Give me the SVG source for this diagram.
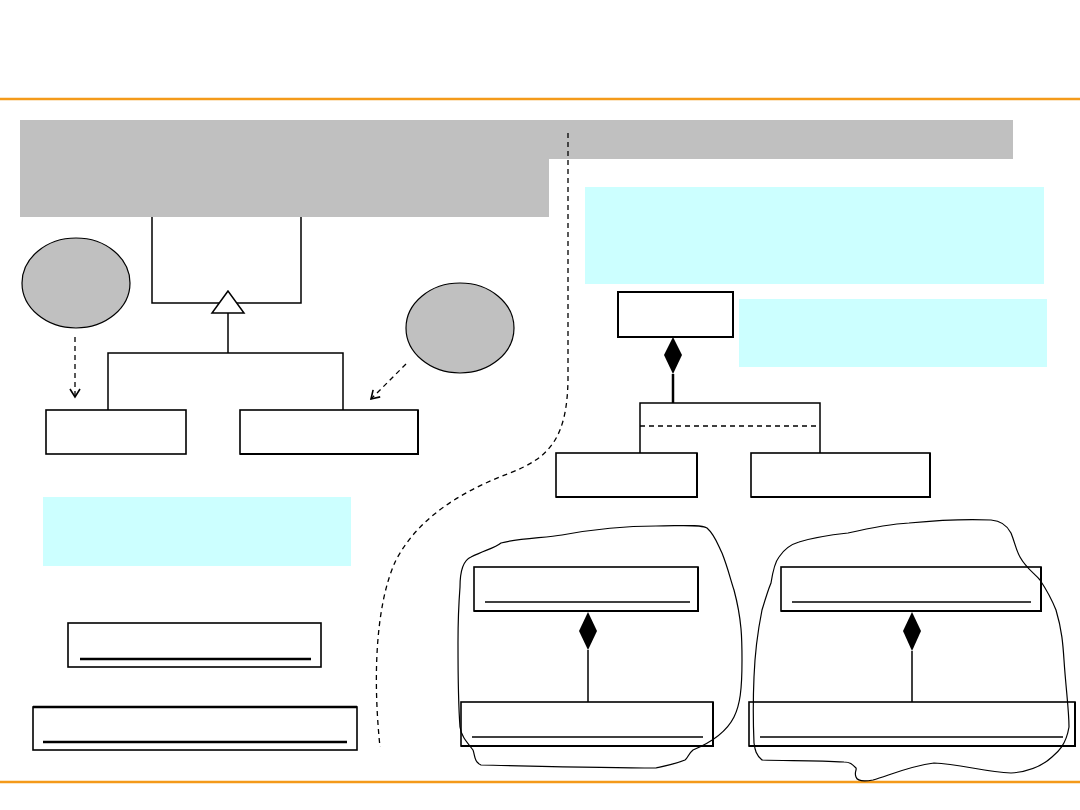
<svg xmlns="http://www.w3.org/2000/svg" width="1080" height="810" viewBox="0 0 1080 810">
<style>
.rule{stroke:#F49A1A;stroke-width:2.5;fill:none}
.gray{fill:#C0C0C0}
.note{fill:#CCFFFF}
.cls{fill:#fff;stroke:#000;stroke-width:1.6}
.ln{stroke:#000;stroke-width:1.5;fill:none}
.thick{stroke:#000;stroke-width:2.5;fill:none}
.dash{stroke:#000;stroke-width:1.3;fill:none;stroke-dasharray:5 4}
.blob{fill:none;stroke:#000;stroke-width:1.2}
.ell{fill:#C0C0C0;stroke:#000;stroke-width:1.2}
.dia{fill:#000}
</style>
<defs>
<marker id="open" markerWidth="12" markerHeight="12" refX="10" refY="6" orient="auto" markerUnits="userSpaceOnUse">
<polyline points="2,1 10,6 2,11" fill="none" stroke="#000" stroke-width="1.6"/>
</marker>
</defs>
<rect width="1080" height="810" fill="#fff"/>
<line class="rule" x1="0" y1="99" x2="1080" y2="99"/>
<line class="rule" x1="0" y1="782" x2="1080" y2="782"/>

<g id="banner">
<path class="gray" d="M20,120 H1013 V159 H549 V217 H20 Z"/>
</g>
<g id="note-top"><rect class="note" x="585" y="187" width="459" height="97"/></g>
<g id="note-mid"><rect class="note" x="739" y="299" width="308" height="68"/></g>
<g id="note-left"><rect class="note" x="43" y="497" width="308" height="69"/></g>

<g id="connectors">
<!-- generalization -->
<polyline class="ln" points="152,217 152,303 301,303 301,217"/>
<line class="ln" x1="228" y1="313" x2="228" y2="353"/>
<polyline class="ln" points="108,410 108,353 343,353 343,410"/>
<polygon points="228,291 212,313 244,313" fill="#fff" stroke="#000" stroke-width="1.5"/>
<!-- dashed arrows from ellipses -->
<line class="dash" x1="75" y1="337" x2="75" y2="397" marker-end="url(#open)"/>
<line class="dash" x1="406" y1="364" x2="371" y2="399" marker-end="url(#open)"/>
<!-- composition top right -->
<polygon class="dia" points="673,337 682,355 673,374 664,355"/>
<line class="thick" x1="673" y1="374" x2="673" y2="403"/>
<polyline class="ln" points="640,453 640,403 820,403 820,453"/>
<line class="dash" x1="640" y1="426" x2="820" y2="426"/>
<!-- compositions bottom right -->
<polygon class="dia" points="588,612 597,631 588,650 579,631"/>
<line class="ln" x1="588" y1="650" x2="588" y2="702"/>
<polygon class="dia" points="912,612 921,631 912,651 903,631"/>
<line class="ln" x1="912" y1="651" x2="912" y2="702"/>
<!-- separator curve -->
<path class="dash" d="M568,133 L568,380 C567,440 548,458 510,473 C465,490 420,515 396,560 C375,605 373,680 380,747"/>
</g>

<g id="ellipse-left"><ellipse class="ell" cx="76" cy="283" rx="54" ry="45"/></g>
<g id="ellipse-right"><ellipse class="ell" cx="460" cy="328" rx="54" ry="45"/></g>

<g id="class-left"><rect class="cls" x="46" y="410" width="140" height="44"/></g>
<g id="class-mid"><rect class="cls" x="240" y="410" width="178" height="44"/>
<polyline class="thick" points="418,410 418,454 240,454" style="stroke-width:2"/></g>

<g id="class-top"><rect class="cls" x="618" y="292" width="115" height="45" style="stroke-width:2"/></g>
<g id="class-r1"><rect class="cls" x="556" y="453" width="141" height="44"/>
<polyline class="thick" points="697,453 697,497 556,497" style="stroke-width:2"/></g>
<g id="class-r2"><rect class="cls" x="751" y="453" width="179" height="44"/>
<polyline class="thick" points="930,453 930,497 751,497" style="stroke-width:2"/></g>

<g id="obj-left1"><rect class="cls" x="68" y="623" width="253" height="44"/>
<line class="thick" x1="80" y1="659" x2="311" y2="659"/></g>
<g id="obj-left2"><rect class="cls" x="33" y="707" width="324" height="43"/>
<line class="thick" x1="33" y1="707" x2="357" y2="707"/>
<line class="thick" x1="43" y1="742" x2="347" y2="742"/></g>

<g id="obj-a"><rect class="cls" x="474" y="567" width="224" height="44"/>
<polyline class="thick" points="698,567 698,611 474,611" style="stroke-width:2"/>
<line class="ln" x1="485" y1="602" x2="690" y2="602"/></g>
<g id="obj-b"><rect class="cls" x="461" y="702" width="252" height="44"/>
<polyline class="thick" points="713,702 713,746 461,746" style="stroke-width:2"/>
<line class="ln" x1="472" y1="737" x2="703" y2="737"/></g>
<g id="obj-c"><rect class="cls" x="781" y="567" width="260" height="44"/>
<polyline class="thick" points="1041,567 1041,611 781,611" style="stroke-width:2"/>
<line class="ln" x1="792" y1="602" x2="1031" y2="602"/></g>
<g id="obj-d"><rect class="cls" x="749" y="702" width="326" height="44"/>
<polyline class="thick" points="1075,702 1075,746 749,746" style="stroke-width:2"/>
<line class="ln" x1="760" y1="737" x2="1063" y2="737"/></g>

<g id="blob-left">
<path class="blob" d="M460,587 C460,570 464,560 471,557 C485,550 495,548 501,543 C520,538 545,538 562,535 C600,528 630,526 656,526 C680,526 700,524 707,528 C715,535 718,545 722,553 C728,568 730,578 734,590 C742,620 742,640 742,660 C742,690 740,705 734,717 C725,735 705,745 693,750 C688,754 688,758 685,760 C675,764 665,766 656,768 C600,768 530,766 481,765 C474,762 475,755 473,750 C465,740 461,735 460,727 C458,700 458,670 458,643 C458,620 459,600 460,587 Z"/>
</g>
<g id="blob-right">
<path class="blob" d="M771,583 C773,570 775,562 779,557 C785,548 792,544 799,542 C815,537 830,535 848,533 C870,528 890,524 909,523 C940,520 970,519 991,520 C1003,521 1008,527 1011,533 C1015,543 1016,550 1020,557 C1026,568 1034,573 1040,580 C1048,592 1052,600 1056,610 C1062,630 1063,645 1064,660 C1066,690 1069,710 1069,727 C1066,745 1058,752 1052,757 C1040,768 1025,772 1011,773 C985,772 960,764 934,763 C910,766 890,775 873,780 C862,782 857,780 856,777 C854,772 857,770 856,768 C852,764 850,762 844,762 C815,760 785,761 762,760 C756,755 755,750 754,743 C753,720 753,700 754,677 C755,650 758,630 762,610 C765,600 768,590 771,583 Z"/>
</g>
</svg>
